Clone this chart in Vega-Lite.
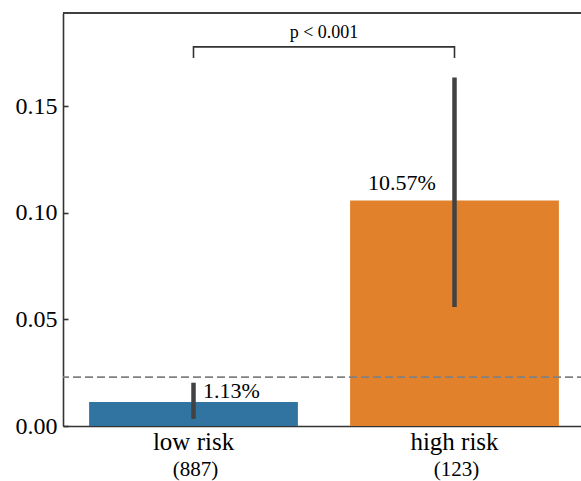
{
  "$schema": "https://vega.github.io/schema/vega-lite/v6.json",
  "width": 522,
  "height": 413,
  "autosize": {"type": "none"},
  "padding": {"left": 63, "top": 13, "right": -4, "bottom": 55},
  "background": "white",
  "config": {
    "view": {"stroke": null},
    "font": "Liberation Serif",
    "text": {"font": "Liberation Serif"},
    "axis": {"grid": false, "domainColor": "#333333", "domainWidth": 1.6, "labelColor": "#000000", "labelFont": "Liberation Serif"},
    "axisX": {"ticks": false, "labelFontSize": 25, "labelPadding": 3, "labelAngle": 0, "labelFont": "Liberation Serif"},
    "axisY": {"tickSize": -5, "tickColor": "#333333", "tickWidth": 1.6, "labelFontSize": 24, "labelPadding": 11, "labelFont": "Liberation Serif"}
  },
  "datasets": {
    "bars": [
      {"group": "low risk", "rate": 0.0113, "lo": 0.0033, "hi": 0.0203, "n": "(887)"},
      {"group": "high risk", "rate": 0.1057, "lo": 0.0558, "hi": 0.1634, "n": "(123)"}
    ],
    "bracket": [
      {"group": "low risk", "y": 0.1725, "k": 1},
      {"group": "low risk", "y": 0.1777, "k": 2},
      {"group": "high risk", "y": 0.1777, "k": 3},
      {"group": "high risk", "y": 0.1725, "k": 4}
    ],
    "ptext": [{"label": "p < 0.001", "y": 0.1819}]
  },
  "data": {"name": "bars"},
  "layer": [
    {
      "mark": {"type": "bar"},
      "encoding": {
        "x": {"field": "group", "type": "nominal", "title": null,
              "scale": {"domain": ["low risk", "high risk"], "paddingInner": 0.2, "paddingOuter": 0.1}},
        "y": {"field": "rate", "type": "quantitative", "title": null,
              "scale": {"domain": [0, 0.1936], "nice": false, "zero": true},
              "axis": {"values": [0, 0.05, 0.1, 0.15], "format": ".2f"}},
        "color": {"field": "group", "type": "nominal", "legend": null,
                  "scale": {"domain": ["low risk", "high risk"], "range": ["#3274a1", "#e1812c"]}}
      }
    },
    {
      "mark": {"type": "rule", "color": "#424242", "strokeWidth": 4.5},
      "encoding": {
        "x": {"field": "group", "type": "nominal", "title": null},
        "y": {"field": "lo", "type": "quantitative", "title": null},
        "y2": {"field": "hi"}
      }
    },
    {
      "mark": {"type": "rule", "color": "#808080", "strokeWidth": 1.5, "strokeDash": [8, 4]},
      "encoding": {"y": {"datum": 0.0228, "type": "quantitative", "title": null}}
    },
    {
      "mark": {"type": "rule", "color": "#333333", "strokeWidth": 1.6},
      "encoding": {"y": {"datum": 0.1936, "type": "quantitative", "title": null}}
    },
    {
      "transform": [{"filter": "datum.group == 'low risk'"}],
      "mark": {"type": "text", "font": "Liberation Serif", "align": "left", "baseline": "alphabetic", "dx": 9.5, "dy": -4, "fontSize": 22, "color": "#000000"},
      "encoding": {
        "x": {"field": "group", "type": "nominal", "title": null},
        "y": {"field": "rate", "type": "quantitative", "title": null},
        "text": {"field": "rate", "type": "quantitative", "format": ".2%"}
      }
    },
    {
      "transform": [{"filter": "datum.group == 'high risk'"}],
      "mark": {"type": "text", "font": "Liberation Serif", "align": "center", "baseline": "alphabetic", "dx": -52.5, "dy": -10.5, "fontSize": 22, "color": "#000000"},
      "encoding": {
        "x": {"field": "group", "type": "nominal", "title": null},
        "y": {"field": "rate", "type": "quantitative", "title": null},
        "text": {"field": "rate", "type": "quantitative", "format": ".2%"}
      }
    },
    {
      "mark": {"type": "text", "font": "Liberation Serif", "align": "center", "baseline": "alphabetic", "dx": 2, "dy": 50, "fontSize": 21, "color": "#000000"},
      "encoding": {
        "x": {"field": "group", "type": "nominal", "title": null},
        "y": {"datum": 0, "type": "quantitative", "title": null},
        "text": {"field": "n", "type": "nominal"}
      }
    },
    {
      "data": {"name": "bracket"},
      "mark": {"type": "line", "color": "#333333", "strokeWidth": 1.6},
      "encoding": {
        "x": {"field": "group", "type": "nominal", "title": null},
        "y": {"field": "y", "type": "quantitative", "title": null},
        "order": {"field": "k", "type": "quantitative"}
      }
    },
    {
      "data": {"name": "ptext"},
      "mark": {"type": "text", "font": "Liberation Serif", "align": "center", "baseline": "alphabetic", "fontSize": 18, "color": "#000000"},
      "encoding": {
        "y": {"field": "y", "type": "quantitative", "title": null},
        "text": {"field": "label", "type": "nominal"}
      }
    }
  ]
}
